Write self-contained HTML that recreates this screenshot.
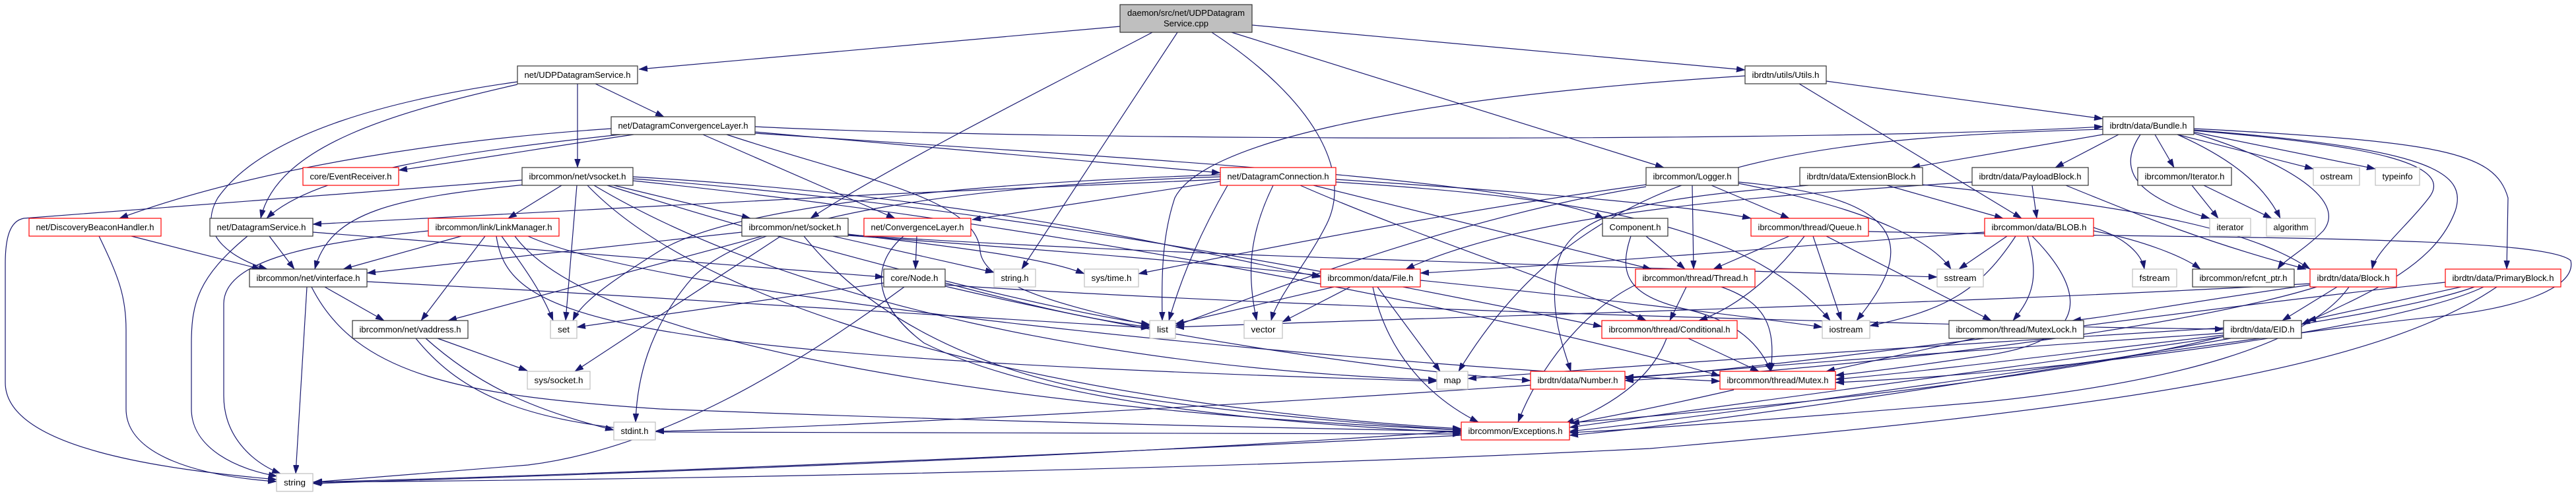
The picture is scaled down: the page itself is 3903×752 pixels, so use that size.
<!DOCTYPE html>
<html><head><meta charset="utf-8"><style>
html,body{margin:0;padding:0;background:#fff;}
svg{display:block;}
.e path{fill:none;stroke:#191970;stroke-width:1.2;}
.n rect{fill:#fff;stroke-width:1.2;}
.k rect{stroke:#333;}
.r rect{stroke:#ff0000;}
.g rect{stroke:#bfbfbf;}
text{font-family:"Liberation Sans",Arial,sans-serif;font-size:13.3px;fill:#000;text-anchor:middle;}
</style></head><body>
<svg width="3903" height="752" viewBox="0 0 3903 752" xmlns="http://www.w3.org/2000/svg">
<defs><marker id="a" viewBox="0 0 13 9" refX="13" refY="4.5" markerWidth="13" markerHeight="9" markerUnits="userSpaceOnUse" orient="auto"><path d="M0,0 L13,4.5 L0,9 z" fill="#191970" stroke="#191970" stroke-width="0.5"/></marker></defs>
<g class="e">
<path marker-end="url(#a)" d="M1697,40 L968,105"/>
<path marker-end="url(#a)" d="M1746,49 C1650,100 1350,250 1228,331"/>
<path marker-end="url(#a)" d="M1784,49 L1548,408"/>
<path marker-end="url(#a)" d="M1836,49 C1990,150 2050,260 2010,340 C1980,400 1935,450 1926,486"/>
<path marker-end="url(#a)" d="M1866,49 L2521,254"/>
<path marker-end="url(#a)" d="M1897,38 L2644,106"/>
<path marker-end="url(#a)" d="M902,127 L1006,177"/>
<path marker-end="url(#a)" d="M875,127 L875,254"/>
<path marker-end="url(#a)" d="M784,124 C600,150 400,200 330,300 C295,360 360,395 405,408"/>
<path marker-end="url(#a)" d="M784,128 C600,170 420,220 395,331"/>
<path marker-end="url(#a)" d="M940,204 C700,230 480,260 404,331"/>
<path marker-end="url(#a)" d="M926,195 C700,210 400,250 181,331"/>
<path marker-end="url(#a)" d="M960,204 C850,220 700,245 604,258"/>
<path marker-end="url(#a)" d="M1065,204 L1356,331"/>
<path marker-end="url(#a)" d="M1144,200 L1849,262"/>
<path marker-end="url(#a)" d="M1144,192 C1600,215 2800,215 3186,192"/>
<path marker-end="url(#a)" d="M1101,204 C1300,270 1480,300 1485,380 C1490,440 1650,470 1742,494"/>
<path marker-end="url(#a)" d="M1144,202 C1700,240 2300,270 2430,331"/>
<path marker-end="url(#a)" d="M930,281 L1137,331"/>
<path marker-end="url(#a)" d="M851,281 L770,331"/>
<path marker-end="url(#a)" d="M795,280 C600,300 500,320 477,408"/>
<path marker-end="url(#a)" d="M874,281 L857,486"/>
<path marker-end="url(#a)" d="M791,273 L36,331 C15,335 8,360 8,400 L8,580 C8,680 250,712 419,727"/>
<path marker-end="url(#a)" d="M959,268 C1500,300 1800,380 2001,420"/>
<path marker-end="url(#a)" d="M920,281 C1300,400 1600,470 1742,492"/>
<path marker-end="url(#a)" d="M900,281 C1200,460 1700,560 2177,576"/>
<path marker-end="url(#a)" d="M959,274 C1600,340 2300,480 2606,570"/>
<path marker-end="url(#a)" d="M890,281 C1100,500 1700,620 2214,650"/>
<path marker-end="url(#a)" d="M959,271 C1600,320 2200,450 2427,495"/>
<path marker-end="url(#a)" d="M699,358 L520,408"/>
<path marker-end="url(#a)" d="M735,358 L638,486"/>
<path marker-end="url(#a)" d="M760,358 C790,400 820,440 838,486"/>
<path marker-end="url(#a)" d="M649,350 C450,370 340,400 339,460 L339,600 C339,660 380,700 425,718"/>
<path marker-end="url(#a)" d="M752,358 C770,480 900,540 2177,578"/>
<path marker-end="url(#a)" d="M780,358 C900,520 1500,620 2214,652"/>
<path marker-end="url(#a)" d="M800,358 C1000,450 2000,550 2606,578"/>
<path marker-end="url(#a)" d="M408,358 L446,408"/>
<path marker-end="url(#a)" d="M375,358 C300,420 290,460 290,520 L290,620 C290,680 360,712 420,722"/>
<path marker-end="url(#a)" d="M474,352 L1339,420"/>
<path marker-end="url(#a)" d="M199,358 L395,408"/>
<path marker-end="url(#a)" d="M150,358 C180,420 191,450 191,500 L191,620 C191,690 300,722 419,730"/>
<path marker-end="url(#a)" d="M492,435 L582,486"/>
<path marker-end="url(#a)" d="M465,435 L448,718"/>
<path marker-end="url(#a)" d="M556,427 C1000,450 1500,480 1742,497"/>
<path marker-end="url(#a)" d="M472,435 C540,570 700,600 1000,620 C1500,640 2000,650 2214,654"/>
<path marker-end="url(#a)" d="M663,513 L799,562"/>
<path marker-end="url(#a)" d="M645,513 C720,580 800,620 930,652"/>
<path marker-end="url(#a)" d="M630,513 C700,600 800,640 1000,655 L2214,658"/>
<path marker-end="url(#a)" d="M1124,352 L556,414"/>
<path marker-end="url(#a)" d="M1155,358 L679,486"/>
<path marker-end="url(#a)" d="M1183,358 L871,563"/>
<path marker-end="url(#a)" d="M1262,358 L1506,413"/>
<path marker-end="url(#a)" d="M1285,355 C1450,375 1580,390 1643,415"/>
<path marker-end="url(#a)" d="M1285,357 C1600,380 1850,400 2001,418"/>
<path marker-end="url(#a)" d="M1218,358 C1300,460 1450,560 1700,600 C1900,630 2100,645 2214,652"/>
<path marker-end="url(#a)" d="M1285,356 C1800,390 2500,405 2935,420"/>
<path marker-end="url(#a)" d="M1389,358 L1387,408"/>
<path marker-end="url(#a)" d="M1369,358 C1320,400 1320,460 1400,520 C1600,620 2000,645 2214,656"/>
<path marker-end="url(#a)" d="M1339,429 L874,496"/>
<path marker-end="url(#a)" d="M1370,435 C1200,560 1000,680 800,705 L475,731"/>
<path marker-end="url(#a)" d="M1432,429 C1550,460 1650,485 1742,496"/>
<path marker-end="url(#a)" d="M1432,432 C2000,470 3000,495 3369,499"/>
<path marker-end="url(#a)" d="M1432,434 C1800,520 2100,560 2319,577"/>
<path marker-end="url(#a)" d="M1849,272 C1400,290 800,320 474,340"/>
<path marker-end="url(#a)" d="M1849,275 L1473,333"/>
<path marker-end="url(#a)" d="M1929,281 C1890,360 1890,420 1904,486"/>
<path marker-end="url(#a)" d="M1860,281 C1820,350 1790,420 1771,486"/>
<path marker-end="url(#a)" d="M1970,281 C2150,360 2400,440 2494,486"/>
<path marker-end="url(#a)" d="M1990,281 L2502,408"/>
<path marker-end="url(#a)" d="M2024,272 C2300,290 2550,310 2653,331"/>
<path marker-end="url(#a)" d="M2024,276 C2400,300 2650,340 2773,486"/>
<path marker-end="url(#a)" d="M1849,265 C1400,280 1100,320 1000,380 C920,430 880,460 868,486"/>
<path marker-end="url(#a)" d="M1849,268 C1500,280 1150,320 1050,420 C980,500 965,580 963,640"/>
<path marker-end="url(#a)" d="M2494,280 C2200,320 1900,380 1725,415"/>
<path marker-end="url(#a)" d="M2593,281 L2711,331"/>
<path marker-end="url(#a)" d="M2564,281 L2566,408"/>
<path marker-end="url(#a)" d="M2634,278 C2850,320 2930,370 2956,408"/>
<path marker-end="url(#a)" d="M2634,276 C2900,300 2900,380 2813,486"/>
<path marker-end="url(#a)" d="M2494,283 C2200,330 1900,450 1781,494"/>
<path marker-end="url(#a)" d="M2859,281 L3035,331"/>
<path marker-end="url(#a)" d="M2913,280 C3200,310 3400,340 3500,408"/>
<path marker-end="url(#a)" d="M2740,281 C2500,300 2380,320 2360,400 C2345,470 2370,530 2380,563"/>
<path marker-end="url(#a)" d="M3079,281 L3086,331"/>
<path marker-end="url(#a)" d="M3130,281 C3250,330 3350,370 3494,408"/>
<path marker-end="url(#a)" d="M2988,276 C2600,300 2300,330 2130,408"/>
<path marker-end="url(#a)" d="M3186,204 L2896,254"/>
<path marker-end="url(#a)" d="M3210,204 L3114,254"/>
<path marker-end="url(#a)" d="M3265,204 L3294,254"/>
<path marker-end="url(#a)" d="M3299,204 L3505,256"/>
<path marker-end="url(#a)" d="M3323,200 L3599,256"/>
<path marker-end="url(#a)" d="M3243,204 C3205,260 3240,300 3348,331"/>
<path marker-end="url(#a)" d="M3299,204 C3380,240 3430,280 3455,331"/>
<path marker-end="url(#a)" d="M3324,202 C3450,240 3560,300 3520,350 C3490,380 3460,395 3451,408"/>
<path marker-end="url(#a)" d="M3324,198 C3600,220 3720,250 3680,300 C3650,340 3600,380 3594,408"/>
<path marker-end="url(#a)" d="M3324,195 C3700,215 3780,230 3800,300 L3798,408"/>
<path marker-end="url(#a)" d="M3324,197 C3680,225 3740,260 3720,320 C3690,400 3600,440 3487,492"/>
<path marker-end="url(#a)" d="M3186,196 C2700,210 2400,250 2210,563"/>
<path marker-end="url(#a)" d="M2767,123 L3186,180"/>
<path marker-end="url(#a)" d="M2726,127 L3063,331"/>
<path marker-end="url(#a)" d="M2644,115 C2100,150 1820,220 1780,300 C1760,360 1760,420 1761,486"/>
<path marker-end="url(#a)" d="M2494,358 L2553,408"/>
<path marker-end="url(#a)" d="M2471,358 C2450,420 2470,450 2560,470 C2640,490 2670,530 2683,563"/>
<path marker-end="url(#a)" d="M2711,358 L2596,408"/>
<path marker-end="url(#a)" d="M2734,358 C2680,430 2620,470 2574,486"/>
<path marker-end="url(#a)" d="M2747,358 L2790,486"/>
<path marker-end="url(#a)" d="M2767,358 L3017,486"/>
<path marker-end="url(#a)" d="M2831,351 C3300,362 3850,355 3895,395 C3905,440 3800,470 3693,480 C3400,510 2700,620 2378,654"/>
<path marker-end="url(#a)" d="M3007,352 C2700,375 2400,400 2152,414"/>
<path marker-end="url(#a)" d="M3041,358 L2968,408"/>
<path marker-end="url(#a)" d="M3054,358 C3000,440 2950,470 2833,494"/>
<path marker-end="url(#a)" d="M3072,358 C3090,420 3080,450 3050,486"/>
<path marker-end="url(#a)" d="M3079,358 C3170,450 3160,520 3000,540 C2900,555 2820,565 2781,569"/>
<path marker-end="url(#a)" d="M3172,345 C3220,360 3245,385 3249,408"/>
<path marker-end="url(#a)" d="M3172,350 C3250,365 3310,390 3334,408"/>
<path marker-end="url(#a)" d="M3321,281 L3361,331"/>
<path marker-end="url(#a)" d="M3339,281 L3442,331"/>
<path marker-end="url(#a)" d="M2555,435 L2530,486"/>
<path marker-end="url(#a)" d="M2608,435 C2680,460 2690,500 2683,563"/>
<path marker-end="url(#a)" d="M2478,432 C2400,470 2330,560 2300,640"/>
<path marker-end="url(#a)" d="M2558,513 L2665,563"/>
<path marker-end="url(#a)" d="M2525,513 C2500,580 2430,620 2372,642"/>
<path marker-end="url(#a)" d="M2992,513 L2767,563"/>
<path marker-end="url(#a)" d="M2627,591 C2500,620 2420,635 2380,642"/>
<path marker-end="url(#a)" d="M2319,584 C1800,620 1200,650 993,654"/>
<path marker-end="url(#a)" d="M3369,497 C3000,520 2600,545 2224,574"/>
<path marker-end="url(#a)" d="M3369,505 C3000,530 2600,560 2462,574"/>
<path marker-end="url(#a)" d="M3380,513 C3000,580 2600,640 2378,660"/>
<path marker-end="url(#a)" d="M3369,510 C2800,650 1500,700 474,733"/>
<path marker-end="url(#a)" d="M3369,508 C3100,540 2900,565 2781,575"/>
<path marker-end="url(#a)" d="M3541,435 L3458,486"/>
<path marker-end="url(#a)" d="M3500,430 C3000,460 2200,480 1781,496"/>
<path marker-end="url(#a)" d="M3559,435 C3500,520 3300,580 3000,610 C2700,635 2500,650 2378,656"/>
<path marker-end="url(#a)" d="M3510,435 C3300,500 2800,560 2462,577"/>
<path marker-end="url(#a)" d="M3500,432 C3300,460 3200,480 3140,486"/>
<path marker-end="url(#a)" d="M3729,435 L3496,486"/>
<path marker-end="url(#a)" d="M3705,428 C3300,470 2700,560 2462,572"/>
<path marker-end="url(#a)" d="M3749,435 C3600,490 3000,560 2378,648"/>
<path marker-end="url(#a)" d="M3763,435 C3650,490 3200,560 2781,580"/>
<path marker-end="url(#a)" d="M3783,435 C3600,560 3200,620 2500,680 C1800,715 900,728 474,731"/>
<path marker-end="url(#a)" d="M2021,435 L1781,491"/>
<path marker-end="url(#a)" d="M2046,435 L1943,488"/>
<path marker-end="url(#a)" d="M2087,435 L2182,563"/>
<path marker-end="url(#a)" d="M2080,435 C2100,530 2160,600 2240,640"/>
<path marker-end="url(#a)" d="M2152,425 C2400,450 2650,480 2761,496"/>
<path marker-end="url(#a)" d="M2214,660 C1600,690 900,720 475,731"/>
</g>

<g class="n k"><rect x="1697" y="7" width="200" height="42" style="fill:#bfbfbf"/><text x="1797" y="24" textLength="178" lengthAdjust="spacingAndGlyphs">daemon/src/net/UDPDatagram</text><text x="1797" y="40" textLength="68" lengthAdjust="spacingAndGlyphs">Service.cpp</text></g>

<g class="n k"><rect x="784" y="100" width="182" height="27"/><text x="875" y="118" textLength="161" lengthAdjust="spacingAndGlyphs">net/UDPDatagramService.h</text></g>
<g class="n k"><rect x="2644" y="100" width="123" height="27"/><text x="2705.5" y="118" textLength="102" lengthAdjust="spacingAndGlyphs">ibrdtn/utils/Utils.h</text></g>

<g class="n k"><rect x="926" y="177" width="218" height="27"/><text x="1035" y="195" textLength="197" lengthAdjust="spacingAndGlyphs">net/DatagramConvergenceLayer.h</text></g>
<g class="n k"><rect x="3186" y="177" width="138" height="27"/><text x="3255" y="195" textLength="117" lengthAdjust="spacingAndGlyphs">ibrdtn/data/Bundle.h</text></g>

<g class="n r"><rect x="459" y="254" width="145" height="27"/><text x="531.5" y="272" textLength="124" lengthAdjust="spacingAndGlyphs">core/EventReceiver.h</text></g>
<g class="n k"><rect x="791" y="254" width="168" height="27"/><text x="875" y="272" textLength="147" lengthAdjust="spacingAndGlyphs">ibrcommon/net/vsocket.h</text></g>
<g class="n r"><rect x="1849" y="254" width="175" height="27"/><text x="1936.5" y="272" textLength="154" lengthAdjust="spacingAndGlyphs">net/DatagramConnection.h</text></g>
<g class="n k"><rect x="2494" y="254" width="140" height="27"/><text x="2564" y="272" textLength="119" lengthAdjust="spacingAndGlyphs">ibrcommon/Logger.h</text></g>
<g class="n k"><rect x="2727" y="254" width="186" height="27"/><text x="2820" y="272" textLength="165" lengthAdjust="spacingAndGlyphs">ibrdtn/data/ExtensionBlock.h</text></g>
<g class="n k"><rect x="2988" y="254" width="176" height="27"/><text x="3076" y="272" textLength="155" lengthAdjust="spacingAndGlyphs">ibrdtn/data/PayloadBlock.h</text></g>
<g class="n k"><rect x="3239" y="254" width="142" height="27"/><text x="3310" y="272" textLength="121" lengthAdjust="spacingAndGlyphs">ibrcommon/Iterator.h</text></g>
<g class="n g"><rect x="3505" y="254" width="70" height="27"/><text x="3540" y="272" textLength="49" lengthAdjust="spacingAndGlyphs">ostream</text></g>
<g class="n g"><rect x="3599" y="254" width="67" height="27"/><text x="3632.5" y="272" textLength="46" lengthAdjust="spacingAndGlyphs">typeinfo</text></g>

<g class="n r"><rect x="44" y="331" width="200" height="27"/><text x="144" y="349" textLength="179" lengthAdjust="spacingAndGlyphs">net/DiscoveryBeaconHandler.h</text></g>
<g class="n k"><rect x="318" y="331" width="156" height="27"/><text x="396" y="349" textLength="135" lengthAdjust="spacingAndGlyphs">net/DatagramService.h</text></g>
<g class="n r"><rect x="649" y="331" width="198" height="27"/><text x="748" y="349" textLength="177" lengthAdjust="spacingAndGlyphs">ibrcommon/link/LinkManager.h</text></g>
<g class="n k"><rect x="1124" y="331" width="161" height="27"/><text x="1204.5" y="349" textLength="140" lengthAdjust="spacingAndGlyphs">ibrcommon/net/socket.h</text></g>
<g class="n r"><rect x="1309" y="331" width="162" height="27"/><text x="1390" y="349" textLength="141" lengthAdjust="spacingAndGlyphs">net/ConvergenceLayer.h</text></g>
<g class="n k"><rect x="2428" y="331" width="99" height="27"/><text x="2477.5" y="349" textLength="78" lengthAdjust="spacingAndGlyphs">Component.h</text></g>
<g class="n r"><rect x="2653" y="331" width="178" height="27"/><text x="2742" y="349" textLength="157" lengthAdjust="spacingAndGlyphs">ibrcommon/thread/Queue.h</text></g>
<g class="n r"><rect x="3007" y="331" width="165" height="27"/><text x="3089.5" y="349" textLength="144" lengthAdjust="spacingAndGlyphs">ibrcommon/data/BLOB.h</text></g>
<g class="n g"><rect x="3348" y="331" width="62" height="27"/><text x="3379" y="349" textLength="41" lengthAdjust="spacingAndGlyphs">iterator</text></g>
<g class="n g"><rect x="3434" y="331" width="74" height="27"/><text x="3471" y="349" textLength="53" lengthAdjust="spacingAndGlyphs">algorithm</text></g>

<g class="n k"><rect x="378" y="408" width="178" height="27"/><text x="467" y="426" textLength="157" lengthAdjust="spacingAndGlyphs">ibrcommon/net/vinterface.h</text></g>
<g class="n k"><rect x="1339" y="408" width="93" height="27"/><text x="1385.5" y="426" textLength="72" lengthAdjust="spacingAndGlyphs">core/Node.h</text></g>
<g class="n g"><rect x="1506" y="408" width="63" height="27"/><text x="1537.5" y="426" textLength="42" lengthAdjust="spacingAndGlyphs">string.h</text></g>
<g class="n g"><rect x="1643" y="408" width="82" height="27"/><text x="1684" y="426" textLength="61" lengthAdjust="spacingAndGlyphs">sys/time.h</text></g>
<g class="n r"><rect x="2001" y="408" width="151" height="27"/><text x="2076.5" y="426" textLength="130" lengthAdjust="spacingAndGlyphs">ibrcommon/data/File.h</text></g>
<g class="n r"><rect x="2478" y="408" width="181" height="27"/><text x="2568.5" y="426" textLength="160" lengthAdjust="spacingAndGlyphs">ibrcommon/thread/Thread.h</text></g>
<g class="n g"><rect x="2935" y="408" width="70" height="27"/><text x="2970" y="426" textLength="49" lengthAdjust="spacingAndGlyphs">sstream</text></g>
<g class="n g"><rect x="3231" y="408" width="67" height="27"/><text x="3264.5" y="426" textLength="46" lengthAdjust="spacingAndGlyphs">fstream</text></g>
<g class="n k"><rect x="3322" y="408" width="154" height="27"/><text x="3399" y="426" textLength="133" lengthAdjust="spacingAndGlyphs">ibrcommon/refcnt_ptr.h</text></g>
<g class="n r"><rect x="3500" y="408" width="131" height="27"/><text x="3565.5" y="426" textLength="110" lengthAdjust="spacingAndGlyphs">ibrdtn/data/Block.h</text></g>
<g class="n r"><rect x="3705" y="408" width="175" height="27"/><text x="3792.5" y="426" textLength="154" lengthAdjust="spacingAndGlyphs">ibrdtn/data/PrimaryBlock.h</text></g>

<g class="n k"><rect x="534" y="486" width="175" height="27"/><text x="621.5" y="504" textLength="154" lengthAdjust="spacingAndGlyphs">ibrcommon/net/vaddress.h</text></g>
<g class="n g"><rect x="834" y="486" width="40" height="27"/><text x="854" y="504" textLength="18" lengthAdjust="spacingAndGlyphs">set</text></g>
<g class="n g"><rect x="1742" y="486" width="39" height="27"/><text x="1761.5" y="504" textLength="17" lengthAdjust="spacingAndGlyphs">list</text></g>
<g class="n g"><rect x="1885" y="486" width="58" height="27"/><text x="1914" y="504" textLength="37" lengthAdjust="spacingAndGlyphs">vector</text></g>
<g class="n r"><rect x="2427" y="486" width="205" height="27"/><text x="2529.5" y="504" textLength="184" lengthAdjust="spacingAndGlyphs">ibrcommon/thread/Conditional.h</text></g>
<g class="n g"><rect x="2761" y="486" width="72" height="27"/><text x="2797" y="504" textLength="51" lengthAdjust="spacingAndGlyphs">iostream</text></g>
<g class="n k"><rect x="2953" y="486" width="204" height="27"/><text x="3055" y="504" textLength="183" lengthAdjust="spacingAndGlyphs">ibrcommon/thread/MutexLock.h</text></g>
<g class="n k"><rect x="3369" y="486" width="118" height="27"/><text x="3428" y="504" textLength="97" lengthAdjust="spacingAndGlyphs">ibrdtn/data/EID.h</text></g>

<g class="n g"><rect x="799" y="563" width="95" height="27"/><text x="846.5" y="581" textLength="74" lengthAdjust="spacingAndGlyphs">sys/socket.h</text></g>
<g class="n g"><rect x="2177" y="563" width="47" height="27"/><text x="2200.5" y="581" textLength="26" lengthAdjust="spacingAndGlyphs">map</text></g>
<g class="n r"><rect x="2319" y="563" width="143" height="27"/><text x="2390.5" y="581" textLength="122" lengthAdjust="spacingAndGlyphs">ibrdtn/data/Number.h</text></g>
<g class="n r"><rect x="2606" y="563" width="175" height="27"/><text x="2693.5" y="581" textLength="154" lengthAdjust="spacingAndGlyphs">ibrcommon/thread/Mutex.h</text></g>

<g class="n g"><rect x="930" y="640" width="63" height="27"/><text x="961.5" y="658" textLength="42" lengthAdjust="spacingAndGlyphs">stdint.h</text></g>
<g class="n r"><rect x="2214" y="640" width="164" height="27"/><text x="2296" y="658" textLength="143" lengthAdjust="spacingAndGlyphs">ibrcommon/Exceptions.h</text></g>

<g class="n g"><rect x="419" y="718" width="55" height="27"/><text x="446.5" y="736" textLength="33" lengthAdjust="spacingAndGlyphs">string</text></g>
</svg>
</body></html>
